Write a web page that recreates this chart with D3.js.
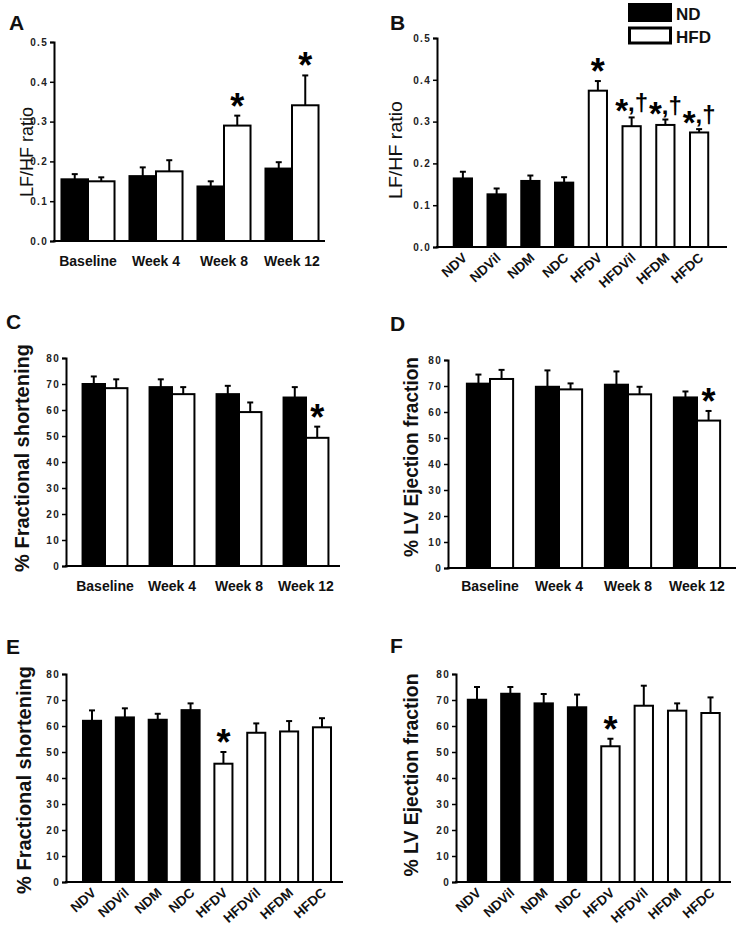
<!DOCTYPE html>
<html><head><meta charset="utf-8">
<script src="https://cdn.jsdelivr.net/npm/d3@7"></script>
<style>
html,body{margin:0;padding:0;background:#fff;}
svg{display:block;font-family:"Liberation Sans",Arial,sans-serif;}
</style></head>
<body><svg id="fig" width="738" height="930"></svg>
<script>
// ---------- data ----------
const timeCats = ["Baseline", "Week 4", "Week 8", "Week 12"];
const groupCats = ["NDV", "NDVil", "NDM", "NDC", "HFDV", "HFDVil", "HFDM", "HFDC"];
const groupDiet = ["ND", "ND", "ND", "ND", "HFD", "HFD", "HFD", "HFD"];
const dietNames = ["ND", "HFD"];
const ratioTicks = [0, 0.1, 0.2, 0.3, 0.4, 0.5];
const pctTicks = [0, 10, 20, 30, 40, 50, 60, 70, 80];

// A: LF/HF ratio over time
const ndA = [0.155, 0.163, 0.137, 0.182];
const ndAErr = [0.013, 0.022, 0.013, 0.016];
const hfdA = [0.150, 0.175, 0.290, 0.341];
const hfdAErr = [0.010, 0.028, 0.025, 0.075];
const sigA = ["", "", "*", "*"];

// B: LF/HF ratio by group
const valB = [0.164, 0.126, 0.158, 0.154, 0.374, 0.289, 0.292, 0.274];
const errB = [0.016, 0.014, 0.013, 0.013, 0.023, 0.021, 0.013, 0.008];
const sigB = ["", "", "", "", "*", "*,†", "*,†", "*,†"];

// C: % fractional shortening over time
const ndC = [70.0, 68.8, 66.1, 64.8];
const ndCErr = [2.9, 3.0, 3.2, 4.0];
const hfdC = [68.4, 66.1, 59.2, 49.3];
const hfdCErr = [3.4, 2.7, 3.7, 4.3];
const sigC = ["", "", "", "*"];

// D: % LV ejection fraction over time
const ndD = [70.9, 69.7, 70.5, 65.6];
const ndDErr = [3.5, 6.3, 5.1, 2.3];
const hfdD = [72.7, 68.7, 66.8, 56.7];
const hfdDErr = [3.5, 2.3, 2.9, 3.7];
const sigD = ["", "", "", "*"];

// E: % fractional shortening by group
const valE = [62.0, 63.3, 62.4, 66.1, 45.5, 57.4, 57.9, 59.5];
const errE = [4.0, 3.5, 2.3, 2.6, 4.5, 3.6, 4.0, 3.5];
const sigE = ["", "", "", "", "*", "", "", ""];

// F: % LV ejection fraction by group
const valF = [70.1, 72.4, 68.7, 67.2, 52.2, 67.8, 65.9, 65.0];
const errF = [4.9, 2.6, 3.6, 4.9, 2.9, 7.7, 2.8, 6.0];
const sigF = ["", "", "", "", "*", "", "", ""];

// ---------- drawing ----------
const svg = d3.select("#fig");
const fillOf = d => d === "ND" ? "#000" : "#fff";

function drawPanel(cfg) {
  const g = svg.append("g");
  const y = d3.scaleLinear().domain(cfg.yDomain).range([cfg.y0, cfg.y1]);
  const x = d3.scaleBand().domain(cfg.cats).range(cfg.xr)
    .paddingInner(cfg.pad).paddingOuter(cfg.pad / 2);

  let rows = [];
  if (cfg.grouped) {
    const sub = d3.scaleBand().domain(dietNames).range([0, x.bandwidth()]);
    cfg.cats.forEach((c, i) => {
      rows.push({cat: c, diet: "ND", v: cfg.nd[i], e: cfg.ndErr[i], sig: "", x0: x(c) + sub("ND"), w: sub.bandwidth()});
      rows.push({cat: c, diet: "HFD", v: cfg.hfd[i], e: cfg.hfdErr[i], sig: cfg.sig[i], x0: x(c) + sub("HFD"), w: sub.bandwidth()});
    });
  } else {
    cfg.cats.forEach((c, i) => {
      rows.push({cat: c, diet: groupDiet[i], v: cfg.vals[i], e: cfg.errs[i], sig: cfg.sig[i], x0: x(c), w: x.bandwidth()});
    });
  }

  // error bars (upper only)
  const eb = g.append("g").attr("stroke", "#000").attr("stroke-width", 2);
  rows.forEach(r => {
    const cx = r.x0 + r.w / 2;
    eb.append("line").attr("x1", cx).attr("x2", cx).attr("y1", y(r.v)).attr("y2", y(r.v + r.e));
    eb.append("line").attr("x1", cx - 3).attr("x2", cx + 3).attr("y1", y(r.v + r.e)).attr("y2", y(r.v + r.e));
  });

  // bars
  g.append("g").selectAll("rect").data(rows).join("rect")
    .attr("x", r => r.x0).attr("width", r => r.w)
    .attr("y", r => y(r.v)).attr("height", r => y(cfg.yDomain[0]) - y(r.v))
    .attr("fill", r => fillOf(r.diet)).attr("stroke", "#000").attr("stroke-width", 2);

  // y axis
  const ya = g.append("g").attr("transform", `translate(${cfg.axX},0)`)
    .call(d3.axisLeft(y).tickValues(cfg.ticks).tickFormat(cfg.fmt).tickSizeOuter(0).tickSize(4).tickPadding(2));
  ya.select(".domain").attr("stroke-width", 2);
  ya.selectAll(".tick line").attr("stroke-width", 1.5);
  ya.selectAll(".tick text").attr("font-size", 10).attr("font-weight", "bold")
    .attr("fill", "#222").attr("letter-spacing", 1.3).attr("font-family", "Liberation Sans, Arial");

  // x axis line
  g.append("line").attr("x1", cfg.axX - 1).attr("x2", cfg.axEnd)
    .attr("y1", y(cfg.yDomain[0])).attr("y2", y(cfg.yDomain[0]))
    .attr("stroke", "#000").attr("stroke-width", 2);

  // category labels
  if (cfg.rotate) {
    g.append("g").selectAll("text").data(cfg.cats).join("text")
      .attr("transform", c => `translate(${x(c) + x.bandwidth() / 2 + 5},${y(cfg.yDomain[0]) + 12}) rotate(-42)`)
      .attr("text-anchor", "end").attr("font-size", 13.5).attr("font-weight", "bold")
      .attr("fill", "#111").text(c => c);
  } else {
    g.append("g").selectAll("text").data(cfg.cats).join("text")
      .attr("x", c => x(c) + x.bandwidth() / 2).attr("y", cfg.labelY)
      .attr("text-anchor", "middle").attr("font-size", 14).attr("font-weight", "bold")
      .attr("fill", "#111").text(c => c);
  }

  // significance marks
  rows.filter(r => r.sig).forEach(r => {
    const cx = r.x0 + r.w / 2;
    const top = y(r.v + r.e);
    if (r.sig === "*") {
      g.append("text").attr("x", cx).attr("y", top + 3).attr("text-anchor", "middle")
        .attr("font-size", 36).attr("font-weight", "bold").text("*");
    } else {
      const t = g.append("text").attr("x", cx).attr("y", top - 6).attr("text-anchor", "middle")
        .attr("font-weight", "bold");
      t.append("tspan").attr("font-size", 33).attr("dy", 11).text("*");
      t.append("tspan").attr("font-size", 24).attr("dy", -11).text(",†");
    }
  });

  // y title
  const yt = g.append("text")
    .attr("transform", `translate(${cfg.titleX},${cfg.titleY}) rotate(-90)`)
    .attr("text-anchor", "middle").attr("font-size", cfg.titleSize)
    .attr("font-weight", cfg.titleBold ? "bold" : "normal").attr("fill", "#111").text(cfg.title);
  if (cfg.titleLen) yt.attr("textLength", cfg.titleLen).attr("lengthAdjust", "spacingAndGlyphs");

  // panel letter
  g.append("text").attr("x", cfg.letterX).attr("y", cfg.letterY)
    .attr("font-size", 21).attr("font-weight", "bold").attr("fill", "#111").text(cfg.letter);
}

const fmt1 = d3.format(".1f");
const fmt0 = d3.format("d");

drawPanel({letter: "A", letterX: 9, letterY: 30, grouped: true, cats: timeCats,
  nd: ndA, ndErr: ndAErr, hfd: hfdA, hfdErr: hfdAErr, sig: sigA,
  yDomain: [0, 0.5], y0: 241, y1: 42, ticks: ratioTicks, fmt: fmt1,
  xr: [54, 326], pad: 0.22, axX: 54, axEnd: 325, labelY: 266,
  title: "LF/HF ratio", titleX: 33, titleY: 152, titleSize: 18, titleBold: false, titleLen: 90});

drawPanel({letter: "B", letterX: 390, letterY: 30, grouped: false, cats: groupCats,
  vals: valB, errs: errB, sig: sigB,
  yDomain: [0, 0.5], y0: 247, y1: 38, ticks: ratioTicks, fmt: fmt1,
  xr: [446, 716], pad: 0.46, axX: 437, axEnd: 727, rotate: true,
  title: "LF/HF ratio", titleX: 402, titleY: 150, titleSize: 19, titleBold: false, titleLen: 98});

drawPanel({letter: "C", letterX: 6, letterY: 329, grouped: true, cats: timeCats,
  nd: ndC, ndErr: ndCErr, hfd: hfdC, hfdErr: hfdCErr, sig: sigC,
  yDomain: [0, 80], y0: 566, y1: 358, ticks: pctTicks, fmt: fmt0,
  xr: [71.5, 339.5], pad: 0.33, axX: 66, axEnd: 340, labelY: 591,
  title: "% Fractional shortening", titleX: 29, titleY: 458, titleSize: 20, titleBold: true});

drawPanel({letter: "D", letterX: 390, letterY: 331, grouped: true, cats: timeCats,
  nd: ndD, ndErr: ndDErr, hfd: hfdD, hfdErr: hfdDErr, sig: sigD,
  yDomain: [0, 80], y0: 568, y1: 360, ticks: pctTicks, fmt: fmt0,
  xr: [455.5, 731.5], pad: 0.33, axX: 448, axEnd: 736, labelY: 591,
  title: "% LV Ejection fraction", titleX: 418, titleY: 457, titleSize: 20, titleBold: true, titleLen: 200});

drawPanel({letter: "E", letterX: 6, letterY: 654, grouped: false, cats: groupCats,
  vals: valE, errs: errE, sig: sigE,
  yDomain: [0, 80], y0: 882, y1: 674, ticks: pctTicks, fmt: fmt0,
  xr: [75.6, 338.4], pad: 0.45, axX: 66, axEnd: 343, rotate: true,
  title: "% Fractional shortening", titleX: 31, titleY: 780, titleSize: 20, titleBold: true});

drawPanel({letter: "F", letterX: 390, letterY: 653, grouped: false, cats: groupCats,
  vals: valF, errs: errF, sig: sigF,
  yDomain: [0, 80], y0: 882, y1: 674, ticks: pctTicks, fmt: fmt0,
  xr: [460.3, 727.2], pad: 0.45, axX: 456, axEnd: 731, rotate: true,
  title: "% LV Ejection fraction", titleX: 418, titleY: 775, titleSize: 20, titleBold: true, titleLen: 203});

// legend
const leg = svg.append("g");
dietNames.forEach((d, i) => {
  const yTop = i === 0 ? 3 : 28;
  const h = i === 0 ? 19 : 15;
  leg.append("rect").attr("x", i === 0 ? 628 : 629.5).attr("y", yTop)
    .attr("width", i === 0 ? 44 : 41).attr("height", h)
    .attr("fill", fillOf(d)).attr("stroke", "#000").attr("stroke-width", i === 0 ? 0 : 3);
  leg.append("text").attr("x", 676).attr("y", i === 0 ? 20 : 43)
    .attr("font-size", 17).attr("font-weight", "bold").attr("fill", "#111").text(d);
});
</script></body></html>
